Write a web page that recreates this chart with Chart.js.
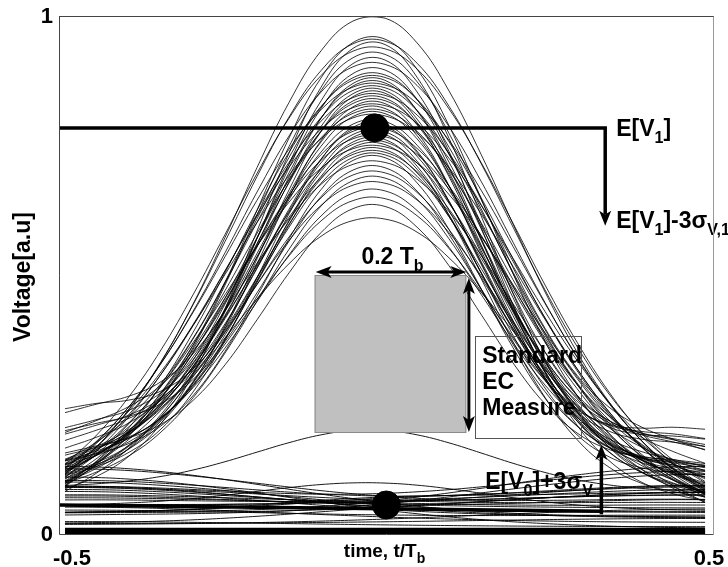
<!DOCTYPE html>
<html>
<head>
<meta charset="utf-8">
<script src="https://cdn.jsdelivr.net/npm/chart.js@4.4.1/dist/chart.umd.min.js"></script>
<style>
html,body{margin:0;padding:0;background:#fff;}
#c{display:block;}
</style>
</head>
<body>
<canvas id="c" width="728" height="567"></canvas>
<script>
// ---------- DATA ----------
const tGrid = [-0.5,-0.45,-0.4,-0.35,-0.3,-0.25,-0.2,-0.15,-0.1,-0.05,0,0.05,0.1,0.15,0.2,0.25,0.3,0.35,0.4,0.45,0.5];
const narrowPulse = [0.0286,0.0577,0.1077,0.1862,0.2982,0.442,0.607,0.770,0.906,0.986,0.994,0.927,0.801,0.640,0.474,0.325,0.206,0.121,0.0657,0.0331,0.0154];
const widePulse   = [0.158,0.228,0.315,0.418,0.534,0.655,0.772,0.874,0.950,0.993,0.997,0.962,0.891,0.794,0.679,0.558,0.441,0.334,0.244,0.171,0.115];
// tail of the neighbouring bit, seen from the left edge
const fastTail = [1,0.946,0.801,0.607,0.411,0.249,0.135,0.0657,0.0286,0.0111,0.0039,0.0012,0.0003,0,0,0,0,0,0,0,0];
const slowTail = [1,0.990,0.960,0.912,0.849,0.775,0.693,0.607,0.520,0.438,0.360,0.291,0.230,0.178,0.135,0.101,0.073,0.052,0.037,0.025,0.017];
// "1" traces: [peak, left-edge level, right-edge level, share of wide profile]
const oneTraces = [
[1.00,0.01,0.01,0.6],[0.96,0.08,0.06,0.2],[0.955,0.00,0.02,0.7],[0.95,0.06,0.10,0.0],[0.94,0.01,0.00,0.8],
[0.93,0.04,0.12,0.3],[0.92,0.09,0.05,0.0],[0.91,0.02,0.01,0.7],[0.90,0.07,0.15,0.1],[0.89,0.07,0.06,0.4],
[0.885,0.00,0.02,0.6],[0.88,0.18,0.11,0.0],[0.875,0.08,0.04,0.2],[0.87,0.01,0.00,0.8],[0.865,0.04,0.05,0.5],
[0.86,0.13,0.06,0.1],[0.855,0.09,0.17,0.0],[0.85,0.02,0.01,0.7],[0.845,0.15,0.05,0.2],[0.84,0.05,0.09,0.4],
[0.835,0.11,0.12,0.0],[0.83,0.00,0.02,0.8],[0.825,0.20,0.10,0.1],[0.82,0.01,0.01,0.6],[0.815,0.10,0.14,0.2],
[0.81,0.02,0.00,0.8],[0.80,0.07,0.06,0.3],[0.795,0.09,0.19,0.0],[0.79,0.16,0.09,0.1],[0.785,0.01,0.02,0.6],
[0.78,0.10,0.05,0.2],[0.775,0.13,0.12,0.0],[0.77,0.00,0.01,0.7],[0.765,0.22,0.06,0.0],[0.76,0.06,0.08,0.4],
[0.755,0.11,0.15,0.1],[0.75,0.01,0.02,0.8],[0.745,0.14,0.09,0.2],[0.74,0.05,0.03,0.5],[0.735,0.05,0.13,0.3],
[0.73,0.12,0.10,0.0],[0.72,0.02,0.00,0.7],[0.71,0.17,0.11,0.1],[0.70,0.08,0.06,0.4],[0.69,0.06,0.16,0.2],
[0.68,0.01,0.01,0.6],[0.665,0.09,0.10,0.3],[0.65,0.04,0.04,0.5],[0.635,0.13,0.12,0.1],[0.61,0.02,0.02,0.8]
];
// "0" traces: [bump, left tail, right tail, floor]
const zeroTraces = [
[0.12,0.02,0.01,0.07],[0.05,0.01,0.00,0.045],[0.00,0.06,0.00,0.03],[0.00,0.08,0.02,0.02],
[0.01,0.00,0.06,0.02],[0.00,0.04,0.04,0.035],[0.00,0.10,0.00,0.01],[0.02,0.03,0.08,0.01],
[0,0,0,0.004],[0,0,0,0.008],[0,0.01,0,0.014],[0,0,0.01,0.02],[0,0.02,0.01,0.026],
[0.01,0.04,0.03,0.025],[0,0.06,0.08,0.012],[0,0.08,0.03,0.012],[0,0.02,0.10,0.015],[0,0.05,0.02,0.04],
[0.02,0.01,0.05,0.03],[0,0.12,0.02,0.01],[0,0.03,0.12,0.01],[0,0.07,0.05,0.015],[0,0.02,0,0.05],
[0.01,0.04,0.07,0.015],[0,0.09,0.08,0.012],[0,0,0.03,0.018],[0,0.03,0,0.022],[0,0.06,0.01,0.022],
[0,0.01,0.05,0.03],[0,0.11,0.05,0.015],[0,0.08,0.11,0.01],[0,0,0.02,0.055],[0,0,0,0.001]
];
// mean levels and markers
const meanV1 = 0.784;
const meanV0Left = 0.056, meanV0Right = 0.044;
const markerT = [-0.016, 0.002];
const markerV = [0.784, 0.056];
const ev1ArrowT = 0.344, ev1ArrowTip = 0.595;
const ev0ArrowT = 0.338, ev0ArrowTip = 0.172;
// standard EC measure box
const ecBoxT = [-0.110, 0.127];
const ecBoxV = [0.195, 0.500];
const widthArrowV = 0.506;
const heightArrowT = 0.131;
const textBoxT = [0.141, 0.307];
const textBoxV = [0.185, 0.382];
const xTicks = [-0.5, 0.5], xTickLabels = ['-0.5','0.5'];
const yTicks = [0, 1], yTickLabels = ['0','1'];

// ---------- BUILD ----------
const N = tGrid.length;
const datasets = [];
oneTraces.forEach(([p,l,r,w]) => {
  datasets.push({data: tGrid.map((t,i)=>({x:t, y: p*((1-w)*narrowPulse[i] + w*widePulse[i]) + l*fastTail[i] + r*fastTail[N-1-i]})),
    borderColor:'#000', borderWidth:0.8, pointRadius:0, tension:0.4});
});
zeroTraces.forEach(([p,l,r,b]) => {
  const flat = (p+l+r) === 0 && b < 0.01;
  datasets.push({data: tGrid.map((t,i)=>({x:t, y: b + p*narrowPulse[i] + l*slowTail[i] + r*slowTail[N-1-i]})),
    borderColor:'#000', borderWidth: flat ? 4 : 0.9, pointRadius:0, tension:0.4});
});
const XMIN = -0.5078, XMAX = 0.5124;
datasets.push({data:[{x:XMIN,y:meanV1},{x:ev1ArrowT,y:meanV1},{x:ev1ArrowT,y:ev1ArrowTip+0.022}],
  borderColor:'#000', borderWidth:3.5, pointRadius:0, tension:0});
datasets.push({data:[{x:XMIN,y:meanV0Left},{x:ev0ArrowT,y:meanV0Right}],
  borderColor:'#000', borderWidth:3.5, pointRadius:0, tension:0});
datasets.push({data:[{x:ev0ArrowT,y:meanV0Right-0.006},{x:ev0ArrowT,y:ev0ArrowTip-0.022}],
  borderColor:'#000', borderWidth:3.5, pointRadius:0, tension:0});
datasets.push({type:'scatter', data: markerT.map((t,i)=>({x:t,y:markerV[i]})),
  backgroundColor:'#000', borderColor:'#000', pointRadius:14, showLine:false});

const FONT = '"Liberation Sans", Arial, Helvetica, sans-serif';
function rich(ctx, x, y, parts, size, subSize, align){
  let w = 0;
  parts.forEach(([s,sub])=>{ ctx.font = 'bold '+(sub?subSize:size)+'px '+FONT; w += ctx.measureText(s).width; });
  let cx = align==='center' ? x - w/2 : x;
  ctx.textAlign = 'left'; ctx.textBaseline = 'alphabetic';
  parts.forEach(([s,sub])=>{
    ctx.font = 'bold '+(sub?subSize:size)+'px '+FONT;
    ctx.fillText(s, cx, y + (sub? Math.round(size*0.32):0));
    cx += ctx.measureText(s).width;
  });
}
function head(ctx, x, y, dx, dy, len, half){
  ctx.beginPath();
  ctx.moveTo(x,y);
  ctx.lineTo(x - dx*len - dy*half, y - dy*len + dx*half);
  ctx.lineTo(x - dx*len*0.75, y - dy*len*0.75);
  ctx.lineTo(x - dx*len + dy*half, y - dy*len - dx*half);
  ctx.closePath(); ctx.fill();
}

const deco = {
  id:'deco',
  beforeDraw(chart){
    const c = chart.ctx; c.save(); c.fillStyle='#fff'; c.fillRect(0,0,chart.width,chart.height); c.restore();
  },
  afterDatasetsDraw(chart){
    const c = chart.ctx, xs = chart.scales.x, ys = chart.scales.y;
    const X = v=>xs.getPixelForValue(v), Y = v=>ys.getPixelForValue(v);
    c.save();
    c.fillStyle = '#000';
    head(c, X(ev1ArrowT), Y(ev1ArrowTip), 0, 1, 15, 6);
    head(c, X(ev0ArrowT), Y(ev0ArrowTip), 0, -1, 15, 6);
    c.fillStyle = '#c0c0c0'; c.strokeStyle = '#8a8a8a'; c.lineWidth = 1;
    const bx0 = X(ecBoxT[0]), bx1 = X(ecBoxT[1]), by0 = Y(ecBoxV[1]), by1 = Y(ecBoxV[0]);
    c.fillRect(bx0, by0, bx1-bx0, by1-by0);
    c.strokeRect(bx0+0.5, by0+0.5, bx1-bx0-1, by1-by0-1);
    c.strokeStyle = '#000'; c.fillStyle = '#000'; c.lineWidth = 3;
    const ay = Y(widthArrowV);
    c.beginPath(); c.moveTo(bx0+10, ay); c.lineTo(bx1-10, ay); c.stroke();
    head(c, bx0+1, ay, -1, 0, 16, 6);
    head(c, bx1, ay, 1, 0, 16, 6);
    const ax = X(heightArrowT);
    c.beginPath(); c.moveTo(ax, by0+14); c.lineTo(ax, by1-10); c.stroke();
    head(c, ax, by0+3, 0, -1, 16, 6);
    head(c, ax, by1-1, 0, 1, 16, 6);
    c.strokeStyle = '#555'; c.lineWidth = 1;
    const tx0 = X(textBoxT[0]), tx1 = X(textBoxT[1]), ty0 = Y(textBoxV[1]), ty1 = Y(textBoxV[0]);
    c.strokeRect(Math.round(tx0)+0.5, Math.round(ty0)+0.5, Math.round(tx1-tx0), Math.round(ty1-ty0));
    c.fillStyle = '#000';
    rich(c, tx0+7, ty0+27, [['Standard',false]], 23, 15);
    rich(c, tx0+7, ty0+53, [['EC',false]], 23, 15);
    rich(c, tx0+7, ty0+79, [['Measure',false]], 23, 15);
    rich(c, (bx0+bx1)/2 + 2, ay - 8, [['0.2 T',false],['b',true]], 23, 16, 'center');
    const lx = X(ev1ArrowT) + 11;
    rich(c, lx, Y(meanV1)+8, [['E[V',false],['1',true],[']',false]], 23, 16);
    rich(c, lx, Y(ev1ArrowTip)+2, [['E[V',false],['1',true],[']-3σ',false],['V,1',true]], 23, 16);
    rich(c, tx0+10, Y(ev0ArrowTip)+44, [['E[V',false],['0',true],[']+3σ',false],['V',true]], 23, 16);
    c.restore();
  },
  afterDraw(chart){
    const c = chart.ctx, a = chart.chartArea, xs = chart.scales.x, ys = chart.scales.y;
    c.save();
    c.lineWidth = 1;
    c.strokeStyle = '#999';
    c.beginPath(); c.moveTo(a.right+0.5, a.top); c.lineTo(a.right+0.5, a.bottom); c.stroke();
    c.strokeStyle = '#444';
    c.beginPath(); c.moveTo(a.left-0.5, a.top+0.5); c.lineTo(a.right+0.5, a.top+0.5); c.stroke();
    c.beginPath(); c.moveTo(a.left-0.5, a.top); c.lineTo(a.left-0.5, a.bottom+0.5); c.lineTo(a.right+0.5, a.bottom+0.5); c.stroke();
    c.fillStyle = '#000';
    c.font = 'bold 22px '+FONT;
    c.textAlign = 'right'; c.textBaseline = 'middle';
    yTicks.forEach((v,i)=> c.fillText(yTickLabels[i], a.left-7, ys.getPixelForValue(v)+1));
    c.textAlign = 'center'; c.textBaseline = 'alphabetic';
    const xoff = [7, 4];
    xTicks.forEach((v,i)=> c.fillText(xTickLabels[i], xs.getPixelForValue(v)+xoff[i], 565));
    rich(c, (a.left+a.right)/2 - 2, 557, [['time, t/T',false],['b',true]], 19, 14, 'center');
    c.save();
    c.translate(24, (a.top+a.bottom)/2 + 2);
    c.rotate(-Math.PI/2);
    c.font = 'bold 23px '+FONT; c.textAlign='center'; c.textBaseline='middle';
    c.fillText('Voltage[a.u]', 0, 0);
    c.restore();
    c.restore();
  }
};

new Chart(document.getElementById('c'), {
  type:'line',
  data:{datasets},
  options:{
    responsive:false, animation:false, devicePixelRatio:1,
    layout:{padding:{left:60, right:12, top:16, bottom:33}},
    scales:{
      x:{type:'linear', min:XMIN, max:XMAX, display:false},
      y:{type:'linear', min:0, max:1, display:false}
    },
    plugins:{legend:{display:false}, tooltip:{enabled:false}},
    elements:{point:{radius:0}}
  },
  plugins:[deco]
});
</script>
</body>
</html>
